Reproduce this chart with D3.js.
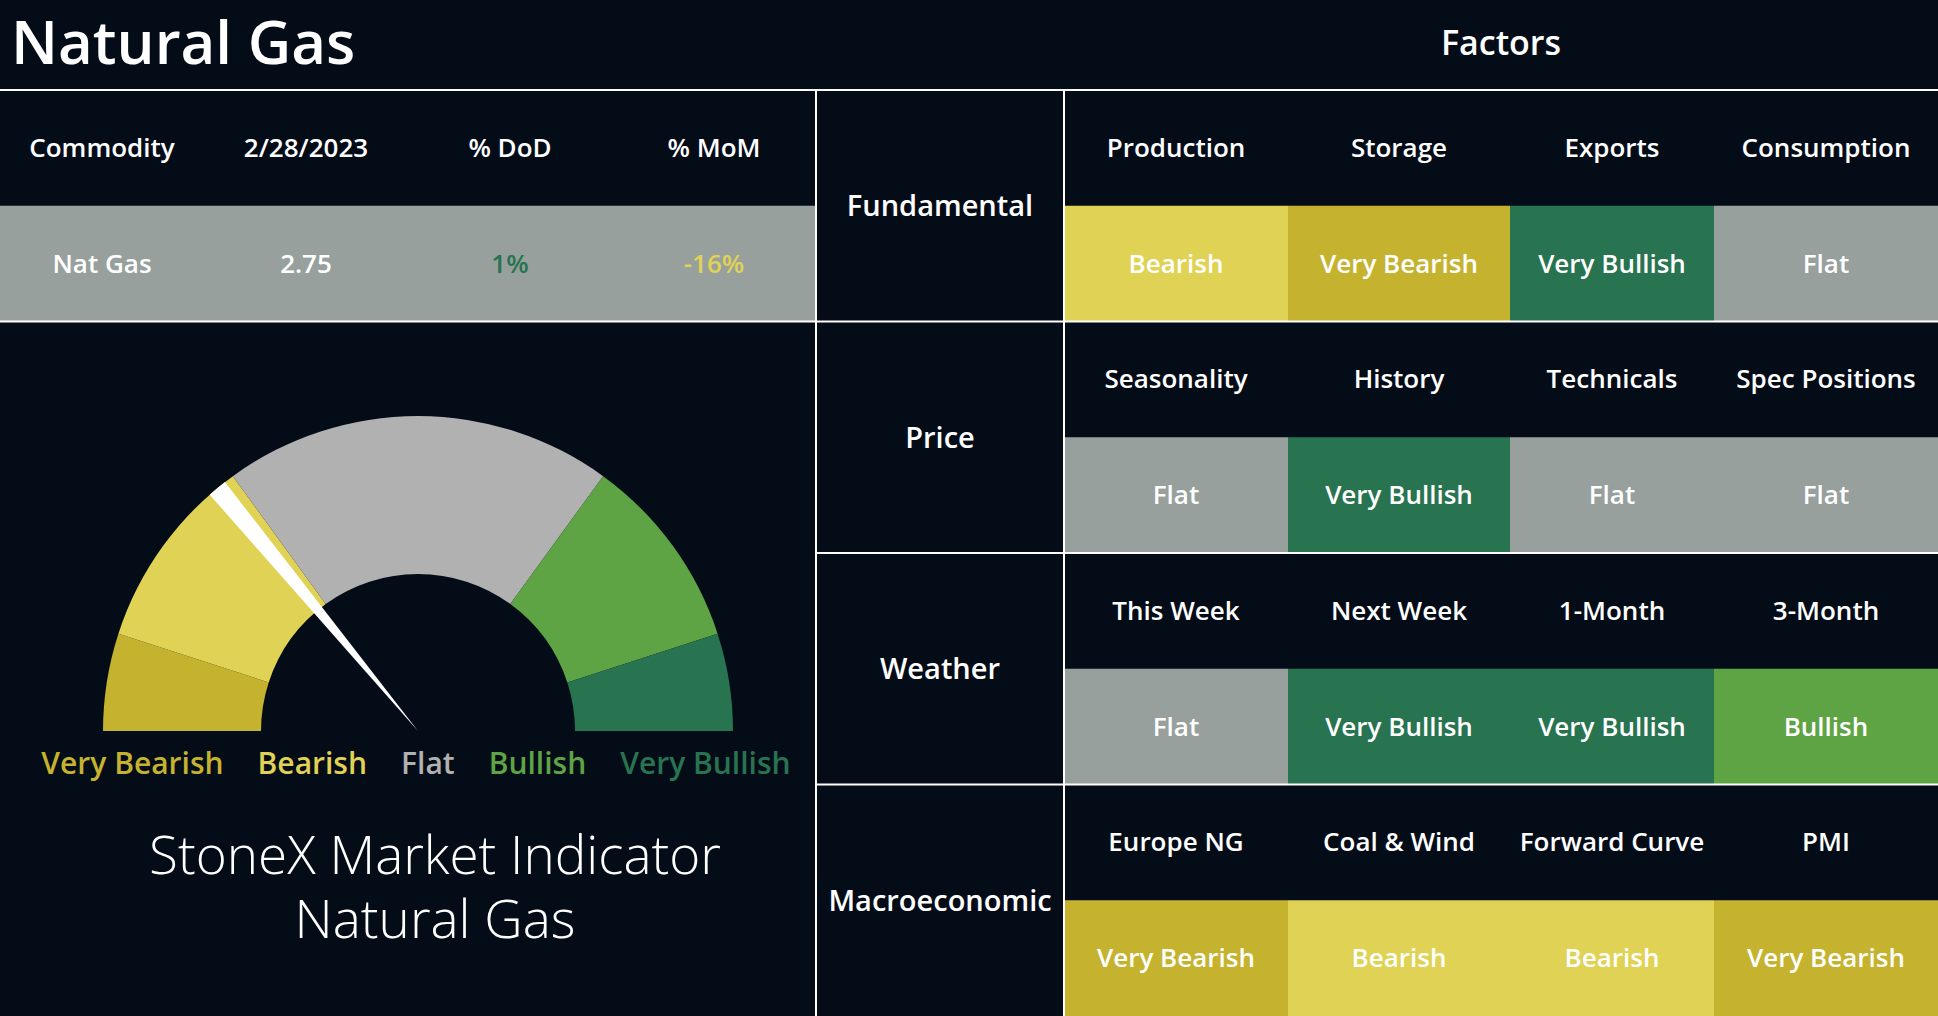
<!DOCTYPE html>
<html>
<head>
<meta charset="utf-8">
<script src="https://cdn.jsdelivr.net/npm/d3@7"></script>
<style>
  html, body { margin: 0; padding: 0; background: #040c18; overflow: hidden; }
  text { font-family: "Open Sans", "Noto Sans", sans-serif; fill: #fff; }
</style>
</head>
<body>
<div id="board"></div>
<script>
// ---- data ----
const commodityHeaders = ["Commodity", "2/28/2023", "% DoD", "% MoM"];
const commodityValues = ["Nat Gas", "2.75", "1%", "-16%"];
const commodityTone = [null, null, "Very Bullish", "Bearish"];

const categories = ["Fundamental", "Price", "Weather", "Macroeconomic"];
const factorNames = [
    ["Production", "Storage", "Exports", "Consumption"],
    ["Seasonality", "History", "Technicals", "Spec Positions"],
    ["This Week", "Next Week", "1-Month", "3-Month"],
    ["Europe NG", "Coal & Wind", "Forward Curve", "PMI"]
];
const factorSignals = [
    ["Bearish", "Very Bearish", "Very Bullish", "Flat"],
    ["Flat", "Very Bullish", "Flat", "Flat"],
    ["Flat", "Very Bullish", "Very Bullish", "Bullish"],
    ["Very Bearish", "Bearish", "Bearish", "Very Bearish"]
];

const levels = ["Very Bearish", "Bearish", "Flat", "Bullish", "Very Bullish"];
const gaugeShares = [10, 20, 40, 20, 10];
const needleValue = 28;   // position on a 0-100 scale
const needleWidth = 2;
const captionLines = ["StoneX Market Indicator", "Natural Gas"];

// ---- styling ----
const W = 1938, H = 1016;
const bg = "#040c18";
const cellColor = d3.scaleOrdinal().domain(levels)
    .range(["#c5b330", "#e0d254", "#98a09e", "#5ea444", "#287350"]);
const gaugeColor = d3.scaleOrdinal().domain(levels)
    .range(["#c5b330", "#e0d254", "#b1b1b1", "#5ea444", "#287350"]);

const titleH = 90;
const leftW = 816;
const catW = 248;
// excel-ish column edges of the factor grid
const colEdges = [1064, 1288, 1510, 1714, W];

const svg = d3.select("#board").append("svg")
    .attr("width", W)
    .attr("height", H);

svg.append("rect").attr("width", W).attr("height", H).attr("fill", bg);

// title bar
svg.append("text")
    .attr("x", 11).attr("y", 64)
    .attr("font-size", 60).attr("font-weight", 600)
    .text("Natural Gas");

svg.append("text")
    .attr("x", (colEdges[0] + W) / 2).attr("y", 55)
    .attr("text-anchor", "middle")
    .attr("font-size", 34).attr("font-weight", 600)
    .text("Factors");

// ---- commodity table ----
let xCom = d3.scaleBand().domain(commodityHeaders).range([0, leftW]);
let rowH = (d3.scaleBand().domain(categories).range([titleH, H]).bandwidth()) / 2;

svg.append("rect")
    .attr("x", 0).attr("y", titleH + rowH)
    .attr("width", leftW).attr("height", rowH)
    .attr("fill", cellColor("Flat"));

svg.append("g").selectAll("text")
    .data(commodityHeaders)
    .join("text")
    .attr("x", d => xCom(d) + xCom.bandwidth() / 2)
    .attr("y", titleH + rowH / 2)
    .attr("dy", "0.35em")
    .attr("text-anchor", "middle")
    .attr("font-size", 26).attr("font-weight", 600)
    .text(d => d);

svg.append("g").selectAll("text")
    .data(commodityValues)
    .join("text")
    .attr("x", (d, i) => xCom(commodityHeaders[i]) + xCom.bandwidth() / 2)
    .attr("y", titleH + rowH * 1.5)
    .attr("dy", "0.36em")
    .attr("text-anchor", "middle")
    .attr("font-size", 26).attr("font-weight", 600)
    .style("fill", (d, i) => commodityTone[i] ? cellColor(commodityTone[i]) : "#fff")
    .text(d => d);

// ---- factor grid ----
let yCat = d3.scaleBand().domain(categories).range([titleH, H]);
let xCol = d3.scaleOrdinal().domain([0, 1, 2, 3]).range(colEdges.slice(0, 4));
let colW = i => colEdges[i + 1] - colEdges[i];

let groups = svg.append("g").selectAll("g")
    .data(categories)
    .join("g")
    .attr("transform", d => `translate(0,${yCat(d)})`);

groups.append("text")
    .attr("x", leftW + catW / 2)
    .attr("y", yCat.bandwidth() / 2)
    .attr("dy", "0.36em")
    .attr("text-anchor", "middle")
    .attr("font-size", 29).attr("font-weight", 600)
    .text(d => d);

groups.each(function (cat, ci) {
    let g = d3.select(this);
    let cells = g.selectAll(".cell")
        .data(factorNames[ci].map((name, j) => ({name: name, signal: factorSignals[ci][j], j: j})))
        .join("g")
        .attr("class", "cell");

    cells.append("rect")
        .attr("x", d => xCol(d.j))
        .attr("y", rowH)
        .attr("width", d => colW(d.j))
        .attr("height", rowH)
        .attr("fill", d => cellColor(d.signal));

    cells.append("text")
        .attr("x", d => xCol(d.j) + colW(d.j) / 2)
        .attr("y", rowH / 2)
        .attr("dy", "0.35em")
        .attr("text-anchor", "middle")
        .attr("font-size", 26).attr("font-weight", 600)
        .text(d => d.name);

    cells.append("text")
        .attr("x", d => xCol(d.j) + colW(d.j) / 2)
        .attr("y", rowH * 1.5)
        .attr("dy", "0.36em")
        .attr("text-anchor", "middle")
        .attr("font-size", 26).attr("font-weight", 600)
        .text(d => d.signal);
});

// grid lines
let lines = svg.append("g").attr("stroke", "#fff").attr("stroke-width", 2);
lines.append("line").attr("x1", 0).attr("x2", W).attr("y1", titleH).attr("y2", titleH);
lines.append("line").attr("x1", 0).attr("x2", W).attr("y1", yCat("Price")).attr("y2", yCat("Price"));
lines.selectAll(".hl")
    .data(categories.slice(2))
    .join("line")
    .attr("class", "hl")
    .attr("x1", leftW).attr("x2", W)
    .attr("y1", d => yCat(d)).attr("y2", d => yCat(d));
lines.selectAll(".vl")
    .data([leftW, colEdges[0]])
    .join("line")
    .attr("class", "vl")
    .attr("x1", d => d).attr("x2", d => d)
    .attr("y1", titleH).attr("y2", H);

// ---- gauge ----
const cx = 418, cy = 731, rOuter = 315, rInner = 157;
let gauge = svg.append("g").attr("transform", `translate(${cx},${cy})`);

let pie = d3.pie().sort(null).value(d => d)
    .startAngle(-Math.PI / 2).endAngle(Math.PI / 2);
let arc = d3.arc().innerRadius(rInner).outerRadius(rOuter);

gauge.selectAll("path.seg")
    .data(pie(gaugeShares))
    .join("path")
    .attr("class", "seg")
    .attr("d", arc)
    .attr("fill", (d, i) => gaugeColor(levels[i]));

let angle = d3.scaleLinear().domain([0, 100]).range([-Math.PI / 2, Math.PI / 2]);
gauge.append("path")
    .attr("d", d3.arc()({
        innerRadius: 0,
        outerRadius: rOuter,
        startAngle: angle(needleValue - needleWidth / 2),
        endAngle: angle(needleValue + needleWidth / 2)
    }))
    .attr("fill", "#fff");

// legend under gauge: one row of labels, centred, fixed gap between them
const legendGap = 34, legendMid = 416;
let legendItems = svg.append("g").selectAll("text")
    .data(levels)
    .join("text")
    .attr("y", 774)
    .attr("font-size", 30).attr("font-weight", 600)
    .style("fill", d => gaugeColor(d))
    .text(d => d);

let widths = legendItems.nodes().map(n => n.getComputedTextLength());
let total = d3.sum(widths) + legendGap * (widths.length - 1);
let starts = widths.map((w, i) => legendMid - total / 2 + d3.sum(widths.slice(0, i)) + legendGap * i);
legendItems.attr("x", (d, i) => starts[i]);

// caption, two lines in one text block
svg.append("text")
    .attr("y", 874)
    .attr("text-anchor", "middle")
    .attr("font-size", 53).attr("font-weight", 300)
    .selectAll("tspan")
    .data(captionLines)
    .join("tspan")
    .attr("x", 435)
    .attr("dy", (d, i) => i === 0 ? 0 : 64)
    .text(d => d);
</script>
</body>
</html>
